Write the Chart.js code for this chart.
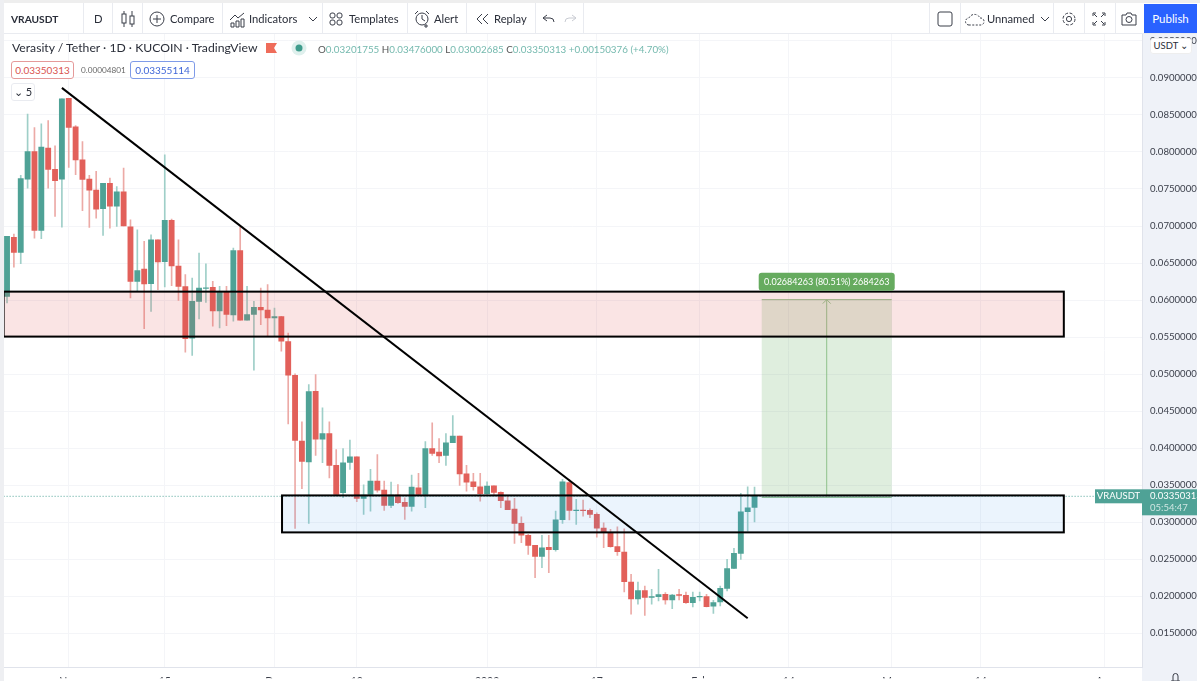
<!DOCTYPE html>
<html>
<head>
<meta charset="utf-8">
<title>VRAUSDT</title>
<script src="https://cdn.jsdelivr.net/npm/chart.js@4/dist/chart.umd.min.js"></script>
<style>
  html, body { margin: 0; padding: 0; background: #fff; overflow: hidden; }
  #page { position: relative; width: 1200px; height: 681px; overflow: hidden; font-family: Lato, "Noto Sans", sans-serif; color: #2a2e39; }
  #myChart { position: absolute; left: 0; top: 0; }
  .t, .box, .line { position: absolute; white-space: nowrap; }
  .t { font-size: 11.2px; line-height: 16px; }
  .line { background: #e9ebf0; }
  svg { position: absolute; fill: none; stroke: #3a3e49; stroke-width: 1; }
  .box { background: #fff; border-radius: 3px; text-align: center; font-size: 10px; line-height: 15px; box-sizing: border-box; }
</style>
</head>
<body>
<div id="page">
  <!-- grey frame and price panel, under the canvas -->
  <div class="box" style="left:1142px;top:34px;width:55px;height:647px;background:#eff2f8;border-radius:0"></div>
  <canvas id="myChart" width="1200" height="681"></canvas>

  <!-- top toolbar -->
  <div class="box" style="left:0;top:0;width:1200px;height:3px;background:#eeeeee;border-radius:0"></div>
  <div class="box" style="left:0;top:0;width:4px;height:681px;background:#eeeff2;border-radius:0"></div>
  <div class="box" style="left:1197px;top:3px;width:3px;height:678px;background:#fff;border-radius:0"></div>
  <div class="line" style="left:4px;top:33px;width:1193px;height:1px"></div>
  <div class="line" style="left:83px;top:3px;width:1px;height:30px"></div>
  <div class="line" style="left:112px;top:3px;width:1px;height:30px"></div>
  <div class="line" style="left:142px;top:3px;width:1px;height:30px"></div>
  <div class="line" style="left:222px;top:3px;width:1px;height:30px"></div>
  <div class="line" style="left:322px;top:3px;width:1px;height:30px"></div>
  <div class="line" style="left:407px;top:3px;width:1px;height:30px"></div>
  <div class="line" style="left:466px;top:3px;width:1px;height:30px"></div>
  <div class="line" style="left:535px;top:3px;width:1px;height:30px"></div>
  <div class="line" style="left:583px;top:3px;width:1px;height:30px"></div>
  <div class="line" style="left:929px;top:3px;width:1px;height:30px"></div>
  <div class="line" style="left:960px;top:3px;width:1px;height:30px"></div>
  <div class="line" style="left:1053px;top:3px;width:1px;height:30px"></div>
  <div class="line" style="left:1084px;top:3px;width:1px;height:30px"></div>
  <div class="line" style="left:1115px;top:3px;width:1px;height:30px"></div>

  <div class="t" style="left:11px;top:11px;font-weight:700;font-size:10.2px">VRAUSDT</div>
  <div class="t" style="left:94px;top:11px">D</div>
  <svg style="left:120px;top:10px" width="16" height="18"><path d="M4 1v16M12 1v16"/><rect x="2" y="4" width="4" height="9" fill="#fff"/><rect x="10" y="6" width="4" height="8" fill="#fff"/></svg>
  <svg style="left:149px;top:11px" width="16" height="16"><circle cx="8" cy="8" r="7"/><path d="M8 4v8M4 8h8"/></svg>
  <div class="t" style="left:170px;top:11px">Compare</div>
  <svg style="left:229px;top:11px" width="17" height="17"><path d="M1 9l5-5 3 3 6-5M2 16v-4h3v4zM7 16v-6h3v6zM12 16v-8h3v8z"/></svg>
  <div class="t" style="left:249px;top:11px">Indicators</div>
  <svg style="left:308px;top:16px" width="10" height="7"><path d="M1 1l4 4 4-4"/></svg>
  <svg style="left:329px;top:12px" width="14" height="14"><rect x="1" y="1" width="5" height="5" rx="2"/><rect x="8" y="1" width="5" height="5" rx="2"/><rect x="1" y="8" width="5" height="5" rx="2"/><rect x="8" y="8" width="5" height="5" rx="2"/></svg>
  <div class="t" style="left:349px;top:11px">Templates</div>
  <svg style="left:414px;top:10px" width="16" height="18"><circle cx="8" cy="9" r="6"/><path d="M8 5v4l3 2M1 4l3-3M15 4l-3-3M12 14v4M10 16h4"/></svg>
  <div class="t" style="left:434px;top:11px">Alert</div>
  <svg style="left:476px;top:13px" width="14" height="12"><path d="M6 1l-5 5 5 5M12 1l-5 5 5 5"/></svg>
  <div class="t" style="left:494px;top:11px">Replay</div>
  <svg style="left:542px;top:14px" width="13" height="10"><path d="M5 1l-4 3 4 3M1 4h7a4 4 0 0 1 4 4"/></svg>
  <svg style="left:564px;top:14px;stroke:#c8cbd2" width="13" height="10"><path d="M8 1l4 3-4 3M12 4h-7a4 4 0 0 0-4 4"/></svg>
  <svg style="left:937px;top:11px" width="16" height="16"><rect x="1" y="1" width="14" height="14" rx="2"/></svg>
  <svg style="left:965px;top:11px" width="20" height="16"><path d="M4 14a3.5 3.5 0 0 1 0-7 6 6 0 0 1 11 0 3.5 3.5 0 0 1 1 7z" stroke-dasharray="2 1.5"/></svg>
  <div class="t" style="left:987px;top:11px">Unnamed</div>
  <svg style="left:1040px;top:16px" width="10" height="7"><path d="M1 1l4 4 4-4"/></svg>
  <svg style="left:1061px;top:11px" width="16" height="16"><circle cx="8" cy="8" r="2.6"/><circle cx="8" cy="8" r="6" stroke-dasharray="3 1.7"/></svg>
  <svg style="left:1092px;top:12px" width="14" height="14"><path d="M1 4V1h3M13 4V1h-3M1 10v3h3M13 10v3h-3M2 2l3 3M12 2l-3 3M2 12l3-3M12 12l-3-3"/></svg>
  <svg style="left:1121px;top:11px" width="16" height="15"><path d="M1 4h4l1-2h4l1 2h4v10H1z"/><circle cx="8" cy="8.5" r="3"/></svg>
  <div class="box" style="left:1144px;top:4px;width:53px;height:29px;background:#2962ff;color:#fff;font-size:11.5px;line-height:29px;border-radius:0">Publish</div>

  <!-- symbol legend -->
  <div class="t" style="left:12px;top:40px;font-size:12.2px">Verasity / Tether · 1D · KUCOIN · TradingView</div>
  <svg style="left:266px;top:43px;stroke:none" width="11" height="10"><path d="M0 0h11l-3 5 3 5H0z" fill="#ef6c5a"/></svg>
  <svg style="left:291px;top:40px;stroke:none" width="16" height="16"><circle cx="8" cy="8" r="7.5" fill="#dff0ed"/><circle cx="8" cy="8" r="3.5" fill="#3f9c8c"/></svg>
  <div class="t" style="left:318px;top:41px;font-size:9.8px;color:#74b9ae"><span style="color:#555">O</span>0.03201755 <span style="color:#555">H</span>0.03476000 <span style="color:#555">L</span>0.03002685 <span style="color:#555">C</span>0.03350313 +0.00150376 (+4.70%)</div>
  <div class="box" style="left:11px;top:61px;width:63px;height:18px;border:1px solid #e59a9a;color:#d9534f;line-height:16px">0.03350313</div>
  <div class="t" style="left:81px;top:62px;font-size:8.2px;color:#666">0.00004801</div>
  <div class="box" style="left:130px;top:61px;width:65px;height:18px;border:1px solid #7f9be8;color:#3f66d8;line-height:16px">0.03355114</div>
  <div class="box" style="left:11px;top:83px;width:24px;height:18px;border:1px solid #e9ebf0;line-height:16px;font-size:11px">&#8964; 5</div>
  <div class="box" style="left:1150px;top:38px;width:42px;height:16px;border:1px solid #eee;font-size:9.5px;line-height:14px">USDT &#8964;</div>
  <svg style="left:1170px;top:673px" width="11" height="9"><path d="M1 8h9M3 8V3a2.5 2.5 0 0 1 5 0v5"/></svg>
</div>

<script>
// Daily candles
const opens = [
  0.06051, 0.06846, 0.06644, 0.07633, 0.08006, 0.06941, 0.08051, 0.07764, 0.07633, 0.08726,
  0.08339, 0.07894, 0.07633, 0.07485, 0.07233, 0.07575, 0.07269, 0.07462, 0.06990, 0.06253,
  0.06419, 0.06222, 0.06815, 0.06518, 0.07076, 0.06460, 0.06181, 0.05484, 0.05983, 0.06159,
  0.06172, 0.05853, 0.06109, 0.05799, 0.06667, 0.05727, 0.05808, 0.05902, 0.05866, 0.05758,
  0.05776, 0.05439, 0.04985, 0.04095, 0.03816, 0.04769, 0.04122, 0.04198, 0.03767, 0.03398,
  0.03807, 0.03884, 0.03322, 0.03375, 0.03555, 0.03434, 0.03227, 0.03366, 0.03268, 0.03214,
  0.03465, 0.03375, 0.03996, 0.03947, 0.03902, 0.04073, 0.04162, 0.03654, 0.03546, 0.03479,
  0.03385, 0.03492, 0.03403, 0.03290, 0.03178, 0.02984, 0.02822, 0.02688, 0.02539, 0.02661,
  0.02629, 0.03034, 0.03537, 0.03155, 0.03164, 0.03160, 0.03106, 0.02921, 0.02858, 0.02670,
  0.02598, 0.02193, 0.01964, 0.02076, 0.01986, 0.01995, 0.02027, 0.01950, 0.02022, 0.02013,
  0.01914, 0.01991, 0.01995, 0.01865, 0.01923, 0.02108, 0.02377, 0.02580, 0.03142, 0.03201755
];
const closes = [
  0.06860, 0.06644, 0.07642, 0.08006, 0.06941, 0.08065, 0.07764, 0.07611, 0.08717, 0.08330,
  0.07894, 0.07629, 0.07485, 0.07229, 0.07575, 0.07269, 0.07462, 0.07000, 0.06253, 0.06397,
  0.06217, 0.06815, 0.06514, 0.07076, 0.06460, 0.06186, 0.05480, 0.05983, 0.06163, 0.06167,
  0.05853, 0.06109, 0.05808, 0.06667, 0.05727, 0.05804, 0.05902, 0.05866, 0.05758, 0.05776,
  0.05444, 0.04985, 0.04104, 0.03821, 0.04765, 0.04122, 0.04198, 0.03767, 0.03375, 0.03803,
  0.03884, 0.03322, 0.03366, 0.03555, 0.03434, 0.03227, 0.03366, 0.03263, 0.03214, 0.03474,
  0.03375, 0.03996, 0.03928, 0.03897, 0.04073, 0.04162, 0.03654, 0.03542, 0.03479, 0.03385,
  0.03488, 0.03403, 0.03290, 0.03169, 0.02984, 0.02827, 0.02688, 0.02539, 0.02656, 0.02629,
  0.03034, 0.03546, 0.03160, 0.03164, 0.03155, 0.03106, 0.02921, 0.02872, 0.02670, 0.02602,
  0.02198, 0.01964, 0.02076, 0.01986, 0.01995, 0.02022, 0.01950, 0.02018, 0.02013, 0.01914,
  0.01986, 0.02000, 0.01860, 0.01914, 0.02108, 0.02373, 0.02580, 0.03142, 0.03196, 0.03350313
];
const highs = [
  0.06860, 0.06892, 0.07683, 0.08510, 0.08330, 0.08380, 0.08425, 0.08083, 0.08717, 0.08726,
  0.08357, 0.08141, 0.07683, 0.07737, 0.07575, 0.07647, 0.07534, 0.07782, 0.07085, 0.06950,
  0.06792, 0.06882, 0.06815, 0.07962, 0.07094, 0.06815, 0.06343, 0.06298, 0.06635, 0.06491,
  0.06253, 0.06186, 0.06186, 0.06703, 0.06986, 0.06186, 0.05983, 0.06163, 0.06208, 0.05893,
  0.05781, 0.05556, 0.05003, 0.04356, 0.04859, 0.04994, 0.04544, 0.04356, 0.03982, 0.03996,
  0.04108, 0.03884, 0.03506, 0.03713, 0.03915, 0.03555, 0.03542, 0.03510, 0.03331, 0.03636,
  0.03659, 0.04090, 0.04342, 0.04131, 0.04198, 0.04441, 0.04162, 0.03767, 0.03659, 0.03659,
  0.03546, 0.03492, 0.03412, 0.03353, 0.03322, 0.03074, 0.02836, 0.02688, 0.02822, 0.02822,
  0.03151, 0.03578, 0.03578, 0.03308, 0.03299, 0.03182, 0.03128, 0.02993, 0.02903, 0.02939,
  0.02912, 0.02296, 0.02193, 0.02139, 0.02094, 0.02364, 0.02049, 0.02027, 0.02094, 0.02058,
  0.02058, 0.02058, 0.02027, 0.01946, 0.02139, 0.02499, 0.02647, 0.03389, 0.03479, 0.03476
];
const lows = [
  0.05961, 0.06446, 0.06491, 0.07512, 0.06837, 0.06828, 0.07512, 0.07130, 0.06986, 0.07791,
  0.07692, 0.07206, 0.06981, 0.07107, 0.06873, 0.06972, 0.06995, 0.07000, 0.06028, 0.06118,
  0.05615, 0.05848, 0.06141, 0.06177, 0.06195, 0.05997, 0.05296, 0.05251, 0.05745, 0.05970,
  0.05646, 0.05624, 0.05655, 0.05714, 0.05727, 0.05727, 0.05053, 0.05668, 0.05520, 0.05520,
  0.05309, 0.04329, 0.02917, 0.03452, 0.02984, 0.03901, 0.03803, 0.03600, 0.03375, 0.03331,
  0.03713, 0.03277, 0.03106, 0.03151, 0.03407, 0.03160, 0.03196, 0.03254, 0.03038, 0.03151,
  0.03362, 0.03196, 0.03901, 0.03803, 0.03767, 0.04073, 0.03497, 0.03421, 0.03434, 0.03286,
  0.03376, 0.03376, 0.03196, 0.03169, 0.02715, 0.02724, 0.02566, 0.02252, 0.02387, 0.02319,
  0.02611, 0.02984, 0.03030, 0.02971, 0.03083, 0.03061, 0.02800, 0.02656, 0.02665, 0.02553,
  0.02058, 0.01757, 0.01892, 0.01743, 0.01892, 0.01937, 0.01892, 0.01833, 0.01950, 0.01905,
  0.01856, 0.01937, 0.01856, 0.01770, 0.01869, 0.02072, 0.02373, 0.02499, 0.02881, 0.03002685
];

// Slots on the time axis: candles plus the empty days to the right of them
const slotCount = 166;
const dateTicks = { 9: 'Nov', 23: '15', 39: 'Dec', 51: '13', 70: '2022', 86: '17', 101: 'Feb', 114: '14', 129: 'Mar', 142: '14', 160: 'Apr' };

// Drawings on the chart, as slot and price
const trendSlots = [8, 108];
const trendPrices = [0.08865, 0.01703];
const zoneStarts = [-0.5, 40.1];
const zoneEnds = [154.1, 154.1];
const zoneTops = [0.06114, 0.03362];
const zoneBottoms = [0.05507, 0.02863];
const measureSlots = [110.05, 129];
const measurePrices = [0.03335, 0.06006];
const measureLabel = '0.02684263 (80.51%) 2684263';
const lastPrice = 0.03350313;
const countdown = '05:54:47';
const symbol = 'VRAUSDT';

const priceMin = 0.01042, priceMax = 0.09593;
const UP = '#4fa296', DOWN = '#e2605a';
const UP_WICK = '#9fcfc8', DOWN_WICK = '#ecaaa6';

const categories = [];
for (let i = 0; i < slotCount; i++) categories.push(String(i));

const isUp = closes.map((c, i) => c >= opens[i]);
const trendData = categories.map((c, i) => {
  const k = trendSlots.indexOf(i);
  return k < 0 ? null : trendPrices[k];
});

// Zones, measure box and last price marker go over the candles, under the trend line
const drawings = {
  id: 'drawings',
  afterDatasetDraw(chart, args) {
    if (args.index !== 0) return;
    const { ctx, chartArea: a, scales: { x, y } } = chart;
    ctx.save();

    // last price dotted line
    const lastY = y.getPixelForValue(lastPrice);
    ctx.strokeStyle = UP;
    ctx.lineWidth = 1;
    ctx.setLineDash([1, 2]);
    ctx.beginPath();
    ctx.moveTo(a.left, lastY);
    ctx.lineTo(a.right, lastY);
    ctx.stroke();
    ctx.setLineDash([]);

    // measure box
    const mx0 = x.getPixelForValue(measureSlots[0]), mx1 = x.getPixelForValue(measureSlots[1]);
    const my0 = y.getPixelForValue(measurePrices[0]), my1 = y.getPixelForValue(measurePrices[1]);
    ctx.fillStyle = 'rgba(76,160,70,0.18)';
    ctx.fillRect(mx0, my1, mx1 - mx0, my0 - my1);
    ctx.strokeStyle = '#8fc18b';
    ctx.beginPath();
    ctx.moveTo(mx0, my1); ctx.lineTo(mx1, my1);
    ctx.moveTo(mx0, my0); ctx.lineTo(mx1, my0);
    const mid = (mx0 + mx1) / 2;
    ctx.moveTo(mid, my0); ctx.lineTo(mid, my1);
    ctx.moveTo(mid - 4, my1 + 4); ctx.lineTo(mid, my1); ctx.lineTo(mid + 4, my1 + 4);
    ctx.stroke();

    // zones
    const zoneFills = ['rgba(225,90,85,0.16)', 'rgba(60,150,240,0.10)'];
    zoneTops.forEach((top, i) => {
      const x0 = x.getPixelForValue(zoneStarts[i]), x1 = x.getPixelForValue(zoneEnds[i]);
      const y0 = y.getPixelForValue(top), y1 = y.getPixelForValue(zoneBottoms[i]);
      ctx.fillStyle = zoneFills[i];
      ctx.fillRect(x0, y0, x1 - x0, y1 - y0);
      ctx.strokeStyle = '#000';
      ctx.lineWidth = 2;
      ctx.strokeRect(x0, y0, x1 - x0, y1 - y0);
    });

    // measure label
    ctx.fillStyle = '#66ab5f';
    ctx.beginPath();
    ctx.roundRect(mid - 68, my1 - 27, 136, 18, 3);
    ctx.fill();
    ctx.fillStyle = '#fff';
    ctx.font = '9px Lato';
    ctx.textAlign = 'center';
    ctx.textBaseline = 'middle';
    ctx.fillText(measureLabel, mid, my1 - 18);
    ctx.restore();
  },
  afterDraw(chart) {
    const { ctx, chartArea: a, scales: { y } } = chart;
    const lastY = y.getPixelForValue(lastPrice);
    ctx.save();
    ctx.fillStyle = UP;
    ctx.fillRect(a.right - 47, lastY - 7, 47, 14);
    ctx.fillRect(a.right, lastY - 7, 55, 26);
    ctx.fillStyle = '#fff';
    ctx.font = '9.5px Lato';
    ctx.textBaseline = 'middle';
    ctx.textAlign = 'center';
    ctx.fillText(symbol, a.right - 23.5, lastY);
    ctx.textAlign = 'left';
    ctx.fillText(lastPrice.toFixed(8), a.right + 8, lastY);
    ctx.fillStyle = '#cfe6e2';
    ctx.fillText(countdown, a.right + 8, lastY + 12);
    ctx.restore();
  }
};

const ctx = document.getElementById('myChart').getContext('2d');
const myChart = new Chart(ctx, {
  type: 'bar',
  data: {
    labels: categories,
    datasets: [
      {
        label: 'Body',
        data: opens.map((o, i) => [o, closes[i]]),
        backgroundColor: isUp.map(u => (u ? UP : DOWN)),
        barThickness: 5.2,
        grouped: false,
        order: 2
      },
      {
        label: 'Wick',
        data: lows.map((l, i) => [l, highs[i]]),
        backgroundColor: isUp.map(u => (u ? UP_WICK : DOWN_WICK)),
        barThickness: 1,
        grouped: false,
        order: 3
      },
      {
        type: 'line',
        label: 'Trend',
        data: trendData,
        borderColor: '#000',
        borderWidth: 2,
        pointRadius: 0,
        spanGaps: true,
        order: 1
      }
    ]
  },
  options: {
    responsive: false,
    animation: false,
    layout: { padding: { left: 3.6, top: 34, right: 0, bottom: 0 } },
    plugins: { legend: { display: false }, tooltip: { enabled: false } },
    scales: {
      x: {
        type: 'category',
        offset: true,
        afterFit: scale => { scale.height = 11; },
        grid: { offset: false, color: '#f4f5f8', drawTicks: false },
        border: { color: '#e0e3eb' },
        ticks: {
          autoSkip: false,
          maxRotation: 0,
          padding: 8,
          color: '#3a3e49',
          font: { family: 'Lato', size: 10.5 },
          callback: (value, index) => (dateTicks[index] === undefined ? null : dateTicks[index])
        }
      },
      y: {
        position: 'right',
        min: priceMin,
        max: priceMax,
        afterFit: scale => { scale.width = 58; },
        grid: { color: '#f4f5f8', drawTicks: false },
        border: { color: '#e0e3eb' },
        ticks: {
          stepSize: 0.005,
          includeBounds: false,
          crossAlign: 'near',
          padding: 8,
          color: '#3a3e49',
          font: { family: 'Lato', size: 9.6 },
          callback: value => value.toFixed(8)
        }
      }
    }
  },
  plugins: [drawings]
});
</script>
</body>
</html>
